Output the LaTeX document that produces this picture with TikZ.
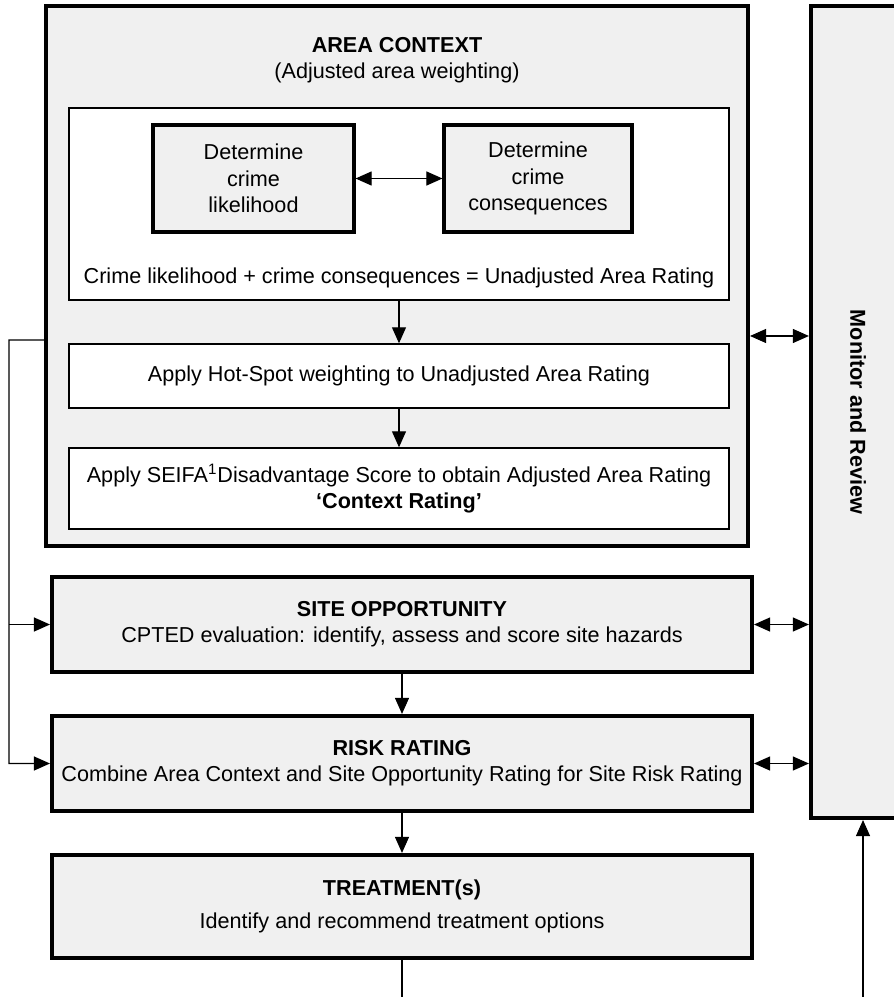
\documentclass[tikz,border=0pt]{standalone}
\usepackage{fontspec}
\setmainfont{Liberation Sans}
\usepackage{tikz}
\usetikzlibrary{arrows.meta,positioning}

\begin{document}
\begin{tikzpicture}[x=0.02cm,y=-0.02cm,% one unit is one pixel of the sketch
    every node/.style={
      align=center,     % so that "\\" breaks lines
      inner sep=0pt,
      font=\fontsize{12.3}{15}\selectfont
    },
    outer/.style={rectangle,draw=black,line width=2.4pt,fill=black!6},
    inbox/.style={rectangle,draw=black,line width=0.8pt,fill=white},
    small/.style={rectangle,draw=black,line width=1.8pt,fill=black!6},
    tip/.tip={Triangle[length=0.32cm,width=0.28cm]},
    arr/.style={-tip,line width=0.6pt},
    dbl/.style={tip-tip,line width=0.6pt}
  ]
  \useasboundingbox (0,0) rectangle (893,997);

  % area context and its inner steps
  \node[outer,minimum width=14.04cm,minimum height=10.8cm](AC) at (397,276) {};
  \node(ACt) at (397,60) {\textbf{AREA CONTEXT}\\(Adjusted area weighting)};
  \node[inbox,minimum width=13.2cm,minimum height=3.84cm](B1) at (399,204) {};
  \node[small,minimum width=4.02cm,minimum height=2.14cm](L) at (253.5,178.5) {Determine\\crime\\likelihood};
  \node[small,minimum width=3.76cm,minimum height=2.14cm](C) at (538,178.5) {Determine\\crime\\consequences};
  \node(EQ) at (399,278) {Crime likelihood + crime consequences = Unadjusted Area Rating};
  \node[inbox,minimum width=13.2cm,minimum height=1.28cm](B2) at (399,376) {Apply Hot-Spot weighting to Unadjusted Area Rating};
  \node[inbox,minimum width=13.2cm,minimum height=1.62cm](B3) at (399,488.5) {Apply SEIFA\textsuperscript{1}Disadvantage Score to obtain Adjusted Area Rating\\\textbf{`Context Rating'}};

  % monitor column
  \node[outer,minimum width=1.88cm,minimum height=16.24cm](MR) at (858,412) {};
  \node[rotate=-90](MRt) at (MR.center) {\textbf{Monitor and Review}};

  % lower steps
  \node[outer,minimum width=14.0cm,minimum height=1.9cm](SO) at (402,624.5) {\textbf{SITE OPPORTUNITY}\\CPTED evaluation: identify, assess and score site hazards};
  \node[outer,minimum width=14.0cm,minimum height=1.9cm](RR) at (402,763.5) {\textbf{RISK RATING}\\Combine Area Context and Site Opportunity Rating for Site Risk Rating};
  \node[outer,minimum width=14.0cm,minimum height=2.06cm](TR) at (402,906.5) {\textbf{TREATMENT(s)}\\[4pt]Identify and recommend treatment options};

  \coordinate (fb) at (9,340);
  \coordinate (tb) at (404,1000);
  \coordinate (mb) at (863,1000);

  \draw[dbl] (L) -- (C);
  \draw[arr] (B1) -- (B2);
  \draw[arr] (B2) -- (B3);
  \draw[arr] (SO) -- (RR);
  \draw[arr] (RR) -- (TR);
  \draw[dbl] ([yshift=-1.2cm]AC.east) -- ([yshift=-1.2cm]AC.east -| MR.west);
  \draw[dbl] (SO.east) -- (SO.east -| MR.west);
  \draw[dbl] (RR.east) -- (RR.east -| MR.west);
  \draw[arr] ([yshift=-1.28cm]AC.west) -- (fb) |- (RR.west);
  \draw[arr] (fb |- SO.west) -- (SO.west);
  \draw[line width=0.6pt] (TR.south) -- (TR.south |- tb);
  \draw[arr] (mb) -- (mb |- MR.south);
\end{tikzpicture}
\end{document}
